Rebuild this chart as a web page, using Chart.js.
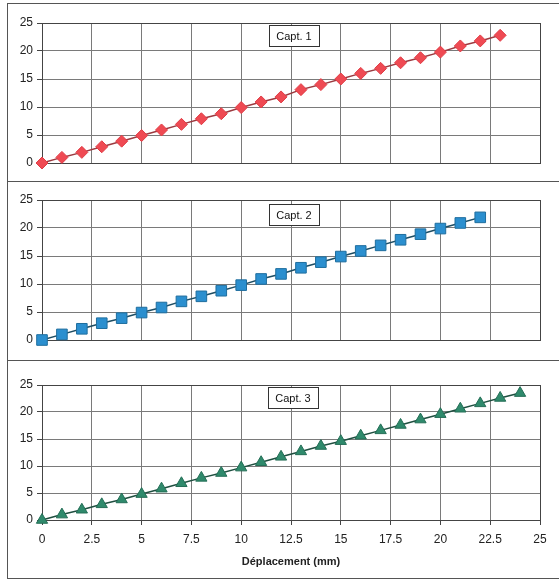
<!DOCTYPE html>
<html>
<head>
<meta charset="utf-8">
<script src="https://cdn.jsdelivr.net/npm/chart.js@4/dist/chart.umd.min.js"></script>
<style>
    body { margin: 0; background: #fff; }
    #frame {
        position: absolute; left: 7px; top: 3px; width: 560px;
        border: 1px solid #555;
    }
    .panel { position: relative; width: 551px; border-bottom: 1px solid #555; }
    .panel:last-child { border-bottom: none; }
    canvas { display: block; }
</style>
</head>
<body>
<div id="frame">
    <div class="panel" style="height:177px"><canvas id="c1"></canvas></div>
    <div class="panel" style="height:178px"><canvas id="c2"></canvas></div>
    <div class="panel" style="height:217px"><canvas id="c3"></canvas></div>
</div>
<script>
// valeurs
const capt1X = [0,1,2,3,4,5,6,7,8,9,10,11,12,13,14,15,16,17,18,19,20,21,22,23];
const capt1Y = [0,1,1.9,2.9,3.9,4.9,5.9,6.9,7.9,8.8,9.9,10.9,11.8,13.1,14,15,16,16.9,17.9,18.8,19.8,20.9,21.8,22.8];

const capt2X = [0,1,2,3,4,5,6,7,8,9,10,11,12,13,14,15,16,17,18,19,20,21,22];
const capt2Y = [0,1,2,3,3.9,4.9,5.8,6.9,7.8,8.8,9.8,10.9,11.8,12.9,13.9,14.9,15.9,16.9,17.9,18.9,19.9,20.9,21.9];

const capt3X = [0,1,2,3,4,5,6,7,8,9,10,11,12,13,14,15,16,17,18,19,20,21,22,23,24];
const capt3Y = [0,1,1.9,2.9,3.8,4.8,5.8,6.8,7.8,8.7,9.7,10.7,11.7,12.7,13.7,14.6,15.6,16.6,17.6,18.6,19.6,20.6,21.6,22.6,23.5];

const xTicks = [0,2.5,5,7.5,10,12.5,15,17.5,20,22.5,25];
const yTicks = [0,5,10,15,20,25];
const labels = ["Capt. 1", "Capt. 2", "Capt. 3"];
const xTitle = "Déplacement (mm)";

Chart.defaults.font.family = "'Liberation Sans', Arial, sans-serif";
Chart.defaults.color = "#222";

// petite boîte "Capt. n" dans la zone du graphe
const labelBox = {
    id: "labelBox",
    afterDatasetsDraw(chart, args, opts) {
        const ctx = chart.ctx;
        const a = chart.chartArea;
        const w = 50, h = 21;
        const cx = a.left + opts.dx;
        const top = a.top + opts.dy;
        ctx.save();
        ctx.fillStyle = "#fff";
        ctx.fillRect(cx - w / 2, top, w, h);
        ctx.strokeStyle = "#333";
        ctx.lineWidth = 1;
        ctx.strokeRect(Math.round(cx - w / 2) + 0.5, Math.round(top) + 0.5, w, h);
        ctx.fillStyle = "#111";
        ctx.font = "11px 'Liberation Sans', Arial, sans-serif";
        ctx.textAlign = "center";
        ctx.textBaseline = "middle";
        ctx.fillText(opts.text, cx, top + h / 2 + 1);
        ctx.restore();
    }
};

function makeChart(id, xs, ys, style, box, size) {
    const pts = xs.map((x, i) => ({ x: x, y: ys[i] }));
    return new Chart(document.getElementById(id), {
        type: "scatter",
        data: {
            datasets: [{
                data: pts,
                showLine: true,
                clip: false,
                borderColor: style.line,
                borderWidth: 1.5,
                pointStyle: style.shape,
                pointRadius: style.radius,
                pointHoverRadius: style.radius,
                pointBackgroundColor: style.fill,
                pointBorderColor: style.edge,
                pointBorderWidth: 1
            }]
        },
        options: {
            responsive: true,
            maintainAspectRatio: false,
            animation: false,
            layout: { padding: { top: size.top, right: 19, left: 0, bottom: 0 } },
            plugins: {
                legend: { display: false },
                tooltip: { enabled: false },
                labelBox: box
            },
            scales: {
                x: {
                    type: "linear",
                    min: 0, max: 25,
                    afterBuildTicks: s => { s.ticks = xTicks.map(v => ({ value: v })); },
                    afterFit: s => { s.height = size.bottom; },
                    grid: { color: "#7a7a7a", drawTicks: size.xLabels, tickLength: 5, tickColor: "#444" },
                    border: { color: "#444", width: 1 },
                    ticks: { display: size.xLabels, padding: 7, font: { size: 12 }, maxRotation: 0 },
                    title: {
                        display: size.xLabels,
                        text: xTitle,
                        font: { size: 11, weight: "bold" },
                        padding: { top: 0, bottom: 9 }
                    }
                },
                y: {
                    min: 0, max: 25,
                    afterBuildTicks: s => { s.ticks = yTicks.map(v => ({ value: v })); },
                    afterFit: s => { s.width = 34; },
                    grid: { color: "#7a7a7a", tickLength: 5, tickColor: "#444" },
                    border: { color: "#444", width: 1 },
                    ticks: { padding: 4, font: { size: 12 } }
                },
                x2: {
                    type: "linear", position: "top", min: 0, max: 25,
                    ticks: { display: false }, grid: { display: false },
                    border: { color: "#444" },
                    afterFit: s => { s.height = 0; }
                },
                y2: {
                    type: "linear", position: "right", min: 0, max: 25,
                    ticks: { display: false }, grid: { display: false },
                    border: { color: "#444" },
                    afterFit: s => { s.width = 0; }
                }
            }
        },
        plugins: [labelBox]
    });
}

makeChart("c1", capt1X, capt1Y,
    { shape: "rectRot", radius: 6, fill: "#ef4a53", edge: "#e03c45", line: "#9c3a40" },
    { text: labels[0], dx: 252, dy: 2 },
    { top: 19, bottom: 18, xLabels: false });

makeChart("c2", capt2X, capt2Y,
    { shape: "rect", radius: 7.5, fill: "#2b8fcf", edge: "#1f6e9e", line: "#1e4d63" },
    { text: labels[1], dx: 252, dy: 4 },
    { top: 18, bottom: 20, xLabels: false });

makeChart("c3", capt3X, capt3Y,
    { shape: "triangle", radius: 6.5, fill: "#2f8a6c", edge: "#246e56", line: "#1f4f40" },
    { text: labels[2], dx: 251, dy: 2 },
    { top: 24, bottom: 58, xLabels: true });
</script>
</body>
</html>
